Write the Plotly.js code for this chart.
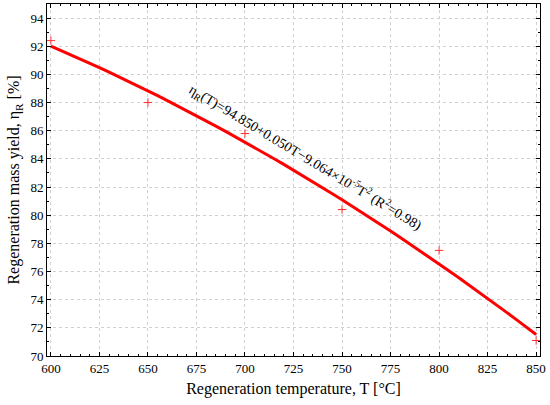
<!DOCTYPE html>
<html>
<head>
<meta charset="utf-8">
<script src="https://cdn.plot.ly/plotly-3.0.1.min.js"></script>
<style>html,body{margin:0;padding:0;background:#fff;}#chart{width:550px;height:405px;}</style>
</head>
<body>
<div id="chart"></div>
<script>
// Measured data
var temperatures = [600, 650, 700, 750, 800, 850];
var massYield = [92.4, 88.0, 85.8, 80.4, 77.5, 71.1];
var xTickVals = [600, 625, 650, 675, 700, 725, 750, 775, 800, 825, 850];
var yTickVals = [70, 72, 74, 76, 78, 80, 82, 84, 86, 88, 90, 92, 94];
var fitLabel = 'η<sub>R</sub>(T)=94.850+0.050T−9.064×10<sup>-5</sup>T<sup>2</sup> (R<sup>2</sup>=0.98)';

// Least-squares quadratic fit of the measured data (as in the original regression)
function quadFit(xs, ys) {
  var n = xs.length, m = 0;
  xs.forEach(function (v) { m += v; }); m /= n;
  var S = [0, 0, 0, 0, 0], B = [0, 0, 0];
  for (var i = 0; i < n; i++) {
    var t = xs[i] - m, p = 1;
    for (var k = 0; k < 5; k++) { S[k] += p; if (k < 3) B[k] += p * ys[i]; p *= t; }
  }
  var A = [[S[0], S[1], S[2], B[0]], [S[1], S[2], S[3], B[1]], [S[2], S[3], S[4], B[2]]];
  for (var c = 0; c < 3; c++) {
    for (var r = c + 1; r < 3; r++) {
      var f = A[r][c] / A[c][c];
      for (var j = c; j < 4; j++) A[r][j] -= f * A[c][j];
    }
  }
  var coef = [0, 0, 0];
  for (var r2 = 2; r2 >= 0; r2--) {
    var s = A[r2][3];
    for (var j2 = r2 + 1; j2 < 3; j2++) s -= A[r2][j2] * coef[j2];
    coef[r2] = s / A[r2][r2];
  }
  return function (x) { var t = x - m; return coef[0] + coef[1] * t + coef[2] * t * t; };
}
var fit = quadFit(temperatures, massYield);
var fitX = [], fitY = [];
for (var T = temperatures[0]; T <= temperatures[temperatures.length - 1]; T += 5) {
  fitX.push(T); fitY.push(fit(T));
}

var serif = 'Liberation Serif, Times New Roman, serif';
var axisCommon = {
  showline: true, linecolor: '#000', linewidth: 1, mirror: 'allticks',
  ticks: 'inside', ticklen: 4, tickcolor: '#000', tickwidth: 1,
  showgrid: true, gridcolor: '#d0d0d0', griddash: 'dot', gridwidth: 1,
  zeroline: false,
  tickfont: {family: serif, size: 13, color: '#000'}
};

var data = [
  {x: fitX, y: fitY, mode: 'lines', line: {color: '#ff0000', width: 3}, hoverinfo: 'skip'},
  {x: temperatures, y: massYield, mode: 'markers',
   marker: {symbol: 'cross-thin', size: 6, line: {color: '#ff3030', width: 1}}}
];

var layout = {
  width: 550, height: 405,
  margin: {l: 47, r: 10, t: 4, b: 49},
  paper_bgcolor: '#fff', plot_bgcolor: '#fff',
  showlegend: false,
  font: {family: serif, color: '#000'},
  xaxis: Object.assign({}, axisCommon, {
    range: [598, 852], tickvals: xTickVals,
    minor: {dtick: 5, ticks: 'inside', ticklen: 2, tickcolor: '#000', showgrid: false},
    title: {text: 'Regeneration temperature, T [°C]', font: {family: serif, size: 16}, standoff: 8}
  }),
  yaxis: Object.assign({}, axisCommon, {
    range: [70, 95], tickvals: yTickVals,
    minor: {dtick: 1, ticks: 'inside', ticklen: 2, tickcolor: '#000', showgrid: false},
    title: {text: 'Regeneration mass yield, η<sub>R</sub> [%]', font: {family: serif, size: 16}, standoff: 6}
  }),
  annotations: [{
    xref: 'x', yref: 'y', x: 731, y: 84.1, text: fitLabel, showarrow: false,
    textangle: 31, font: {family: serif, size: 14, color: '#000'}
  }]
};

Plotly.newPlot('chart', data, layout, {displayModeBar: false, staticPlot: true});
</script>
</body>
</html>
